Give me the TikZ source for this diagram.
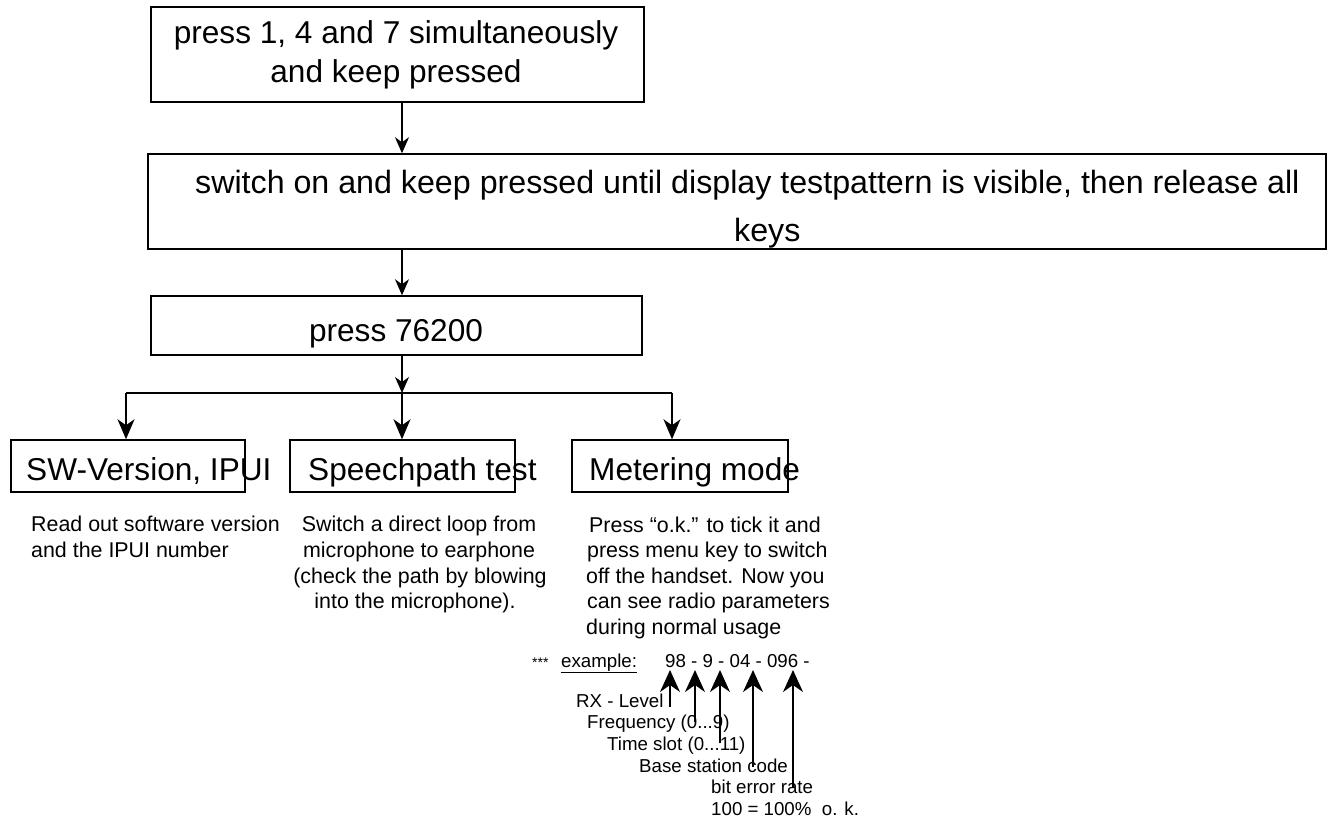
\documentclass[tikz,border=0pt]{standalone}
\usepackage{fontspec}
\setmainfont{Liberation Sans}
\usetikzlibrary{arrows.meta}
\begin{document}
\begin{tikzpicture}[x=1pt,y=-1pt,
  box/.style={draw=black,line width=1.5pt,inner sep=0pt,fill=none},
  big/.style={inner sep=0pt,font=\fontsize{31.6}{38}\selectfont},
  desc/.style={inner sep=0pt,font=\fontsize{21.4}{25.5}\selectfont},
  ex/.style={inner sep=0pt,font=\fontsize{18.7}{22}\selectfont},
  arrS/.style={line width=1.5pt,-{Stealth[length=16pt,width=14pt,inset=5pt]}},
  arrL/.style={line width=1.5pt,-{Stealth[length=20pt,width=17pt,inset=6pt]}},
  arrE/.style={line width=1.5pt,-{Stealth[length=22pt,width=20pt,inset=7pt]}}]
\path[use as bounding box] (0,0) rectangle (1328,823);
% main boxes
\node[box,minimum width=493pt,minimum height=95pt] (b1) at (397.5,54.5) {};
\node[box,minimum width=1178pt,minimum height=95pt] (b2) at (737,201.5) {};
\node[box,minimum width=491pt,minimum height=59pt] (b3) at (396.5,325.5) {};
\node[big,anchor=base] (t1a) at (396,43) {press 1, 4 and 7 simultaneously};
\node[big,anchor=base] (t1b) at (396,82) {and keep pressed};
\node[big,anchor=base west,font=\fontsize{32.2}{38}\selectfont] (t2a) at (195,193) {switch on and keep pressed until display testpattern is visible, then release all};
\node[big,anchor=base west,font=\fontsize{32.2}{38}\selectfont] (t2b) at (734,241) {keys};
\node[big,anchor=base] (t3) at (396,341) {press 76200};
% bottom boxes
\node[box,minimum width=234pt,minimum height=52pt] (sw) at (128,466) {};
\node[box,minimum width=225pt,minimum height=52pt] (sp) at (402.5,466) {};
\node[box,minimum width=216pt,minimum height=52pt] (met) at (680,466) {};
\node[big,anchor=base west] (tsw) at (26,480) {SW-Version, IPUI};
\node[big,anchor=base west] (tsp) at (308,480) {Speechpath test};
\node[big,anchor=base west] (tmet) at (589,480) {Metering mode};
% connectors
\coordinate (hl) at (126,393);
\coordinate (hm) at (402,393);
\coordinate (hr) at (672,393);
\draw[arrS] (b1.south -| hm) -- (b2.north -| hm);
\draw[arrS] (b2.south -| hm) -- (b3.north -| hm);
\draw[arrS] (b3.south -| hm) -- (hm);
\draw[line width=1.5pt] (hl) -- (hr);
\draw[arrL] (hl) -- (hl |- sw.north);
\draw[arrL] (hm) -- (hm |- sp.north);
\draw[arrL] (hr) -- (hr |- met.north);
% descriptions
\node[desc,anchor=base west] (d1a) at (31,531) {Read out software version};
\node[desc,anchor=base west] (d1b) at (31,557) {and the IPUI number};
\node[desc,anchor=base] (d2a) at (419,531) {Switch a direct loop from};
\node[desc,anchor=base] (d2b) at (419,557) {microphone to earphone};
\node[desc,anchor=base] (d2c) at (420,583) {(check the path by blowing};
\node[desc,anchor=base] (d2d) at (415,608.5) {into the microphone).};
\node[desc,anchor=base west] (d3a) at (589,532) {Press “o.k.” to tick it and};
\node[desc,anchor=base west] (d3b) at (587,557.5) {press menu key to switch};
\node[desc,anchor=base west] (d3c) at (586,583) {off the handset. Now you};
\node[desc,anchor=base west] (d3d) at (587,608.5) {can see radio parameters};
\node[desc,anchor=base west] (d3e) at (586,634) {during normal usage};
% example
\node[inner sep=0pt,anchor=base west,font=\fontsize{14}{16}\selectfont] (stars) at (532,667) {***};
\node[ex,anchor=base west] (exl) at (561,667) {\underline{example:}};
\node[ex,anchor=base west] (exv) at (665,667) {98 - 9 - 04 - 096 -};
\node[ex,anchor=base west] (l1) at (576,707) {RX - Level};
\node[ex,anchor=base west] (l2) at (587,728) {Frequency (0...9)};
\node[ex,anchor=base west] (l3) at (607,750) {Time slot (0...11)};
\node[ex,anchor=base west] (l4) at (639,772) {Base station code};
\node[ex,anchor=base west] (l5) at (711,793) {bit error rate};
\node[ex,anchor=base west] (l6) at (711,815) {100 = 100\%\ \ o. k.};
\coordinate (e1b) at (670,707); \coordinate (e1t) at (670,670);
\coordinate (e2b) at (695,722); \coordinate (e2t) at (695,670);
\coordinate (e3b) at (720,743); \coordinate (e3t) at (720,670);
\coordinate (e4b) at (753,767); \coordinate (e4t) at (753,670);
\coordinate (e5b) at (793,787); \coordinate (e5t) at (793,670);
\draw[arrE] (e1b) -- (e1t);
\draw[arrE] (e2b) -- (e2t);
\draw[arrE] (e3b) -- (e3t);
\draw[arrE] (e4b) -- (e4t);
\draw[arrE] (e5b) -- (e5t);
\end{tikzpicture}
\end{document}
